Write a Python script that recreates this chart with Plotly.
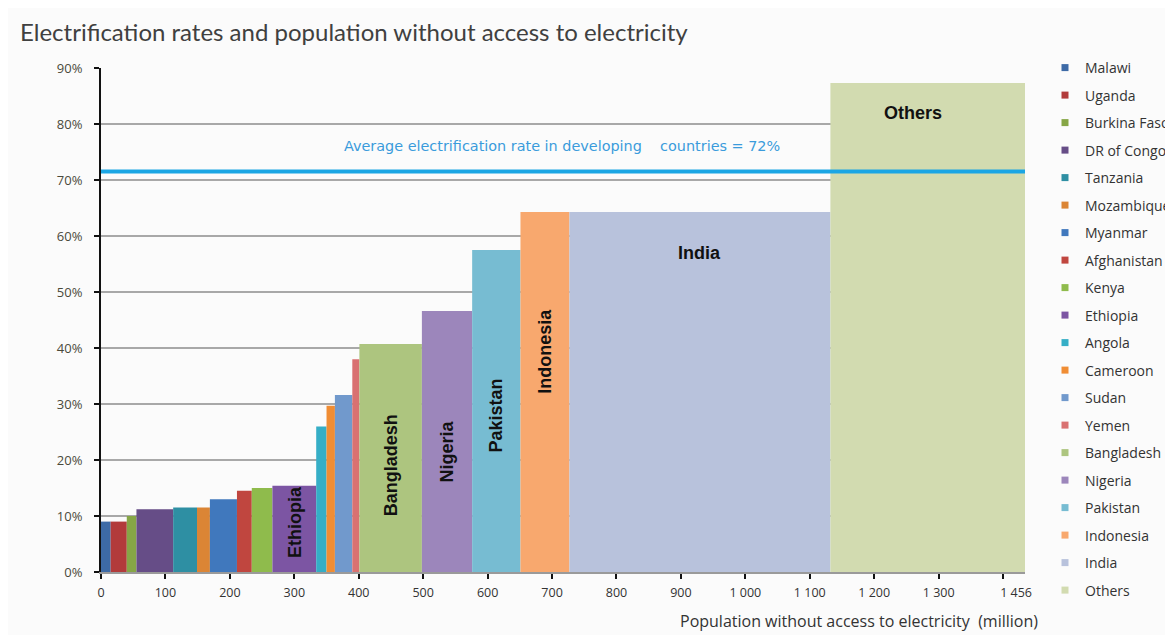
import plotly.graph_objects as go

countries = ["Malawi", "Uganda", "Burkina Faso", "DR of Congo", "Tanzania", "Mozambique",
             "Myanmar", "Afghanistan", "Kenya", "Ethiopia", "Angola", "Cameroon", "Sudan",
             "Yemen", "Bangladesh", "Nigeria", "Pakistan", "Indonesia", "India", "Others"]
population = [15, 25, 15, 57, 37, 20, 42, 23, 32, 68, 16, 13, 27, 11, 97, 78, 75, 76, 405, 302]
rates = [9, 9, 10, 11.2, 11.5, 11.5, 13, 14.5, 15, 15.4, 26, 29.7, 31.6, 38, 40.7, 46.6, 57.5, 64.3, 64.3, 87.3]
colors = ["#3D6AA6", "#B23B3B", "#86A646", "#664D87", "#2E8FA3", "#DB8535", "#4078BD",
          "#C0463F", "#8FBB4C", "#7C55A3", "#35AEC6", "#F08D34", "#7199CC", "#D97171",
          "#ADC57F", "#9C86BB", "#77BCD2", "#F8A86E", "#B8C2DC", "#D2DBB0"]

avg_rate = 71.5
avg_text = "Average electrification rate in developing &nbsp;&nbsp;&nbsp;countries = 72%"

x_tickvals = [0, 100, 200, 300, 400, 500, 600, 700, 800, 900, 1000, 1100, 1200, 1300, 1400]
x_ticktext = ["0", "100", "200", "300", "400", "500", "600", "700", "800", "900",
              "1 000", "1 100", "1 200", "1 300", "&nbsp;" * 8 + "1 456"]
y_tickvals = [0, 10, 20, 30, 40, 50, 60, 70, 80, 90]
y_ticktext = ["0%", "10%", "20%", "30%", "40%", "50%", "60%", "70%", "80%", "90%"]

vertical_labels = ["Ethiopia", "Bangladesh", "Nigeria", "Pakistan", "Indonesia"]
vertical_label_y = [9, 19, 21.5, 28, 39.5]
horizontal_labels = ["India", "Others"]
horizontal_label_y = [57, 82]
horizontal_label_shift = [0, -15]

# cumulative positions
starts = []
acc = 0
for p in population:
    starts.append(acc)
    acc += p
total = acc
centers = [s + p / 2 for s, p in zip(starts, population)]

# the page body has an 8px margin; compensate so the chart lands on the reference pixels
OFF = 8
W, H = 1173 - OFF, 635 - OFF
ML, MR, MT, MB = 101 - OFF, 148, 68 - OFF, 63
pw = W - ML - MR
ph = H - MT - MB

fig = go.Figure()
for name, c, w, r, col in zip(countries, centers, population, rates, colors):
    fig.add_trace(go.Bar(x=[c], y=[r], width=[w], marker=dict(color=col, line=dict(width=0)),
                         name=name, showlegend=False, hoverinfo="x+y+name"))
for i, (name, col) in enumerate(zip(countries, colors)):
    fig.add_trace(go.Scatter(x=[None], y=[None], mode="markers", name=name,
                             legendgroup=f"g{i}",
                             marker=dict(symbol="square", size=7, color=col)))

fig.add_shape(type="line", xref="x", yref="y", x0=0, x1=total, y0=avg_rate, y1=avg_rate,
              line=dict(color="#1BA6E4", width=4), layer="above")

fig.add_annotation(x=374, y=76.1, xref="x", yref="y", text=avg_text, showarrow=False,
                   xanchor="left", yanchor="middle",
                   font=dict(family="DejaVu Sans", size=14.4, color="#3A9BDC"))

label_font = dict(family="Liberation Sans Narrow, Arial Narrow, Liberation Sans", size=18, color="#111111")
for lab, ly in zip(vertical_labels, vertical_label_y):
    i = countries.index(lab)
    fig.add_annotation(x=centers[i], y=ly, xref="x", yref="y", text=f"<b>{lab}</b>",
                       textangle=-90, showarrow=False, font=label_font)
for lab, ly, sh in zip(horizontal_labels, horizontal_label_y, horizontal_label_shift):
    i = countries.index(lab)
    fig.add_annotation(x=centers[i], y=ly, xref="x", yref="y", text=f"<b>{lab}</b>",
                       xshift=sh, showarrow=False, font=label_font)

fig.add_annotation(x=(1040 - 101) / pw, y=(572 - 621) / ph, xref="paper", yref="paper",
                   text="Population without access to electricity &nbsp;(million)",
                   showarrow=False, xanchor="right", yanchor="middle",
                   font=dict(family="Open Sans", size=16, color="#333333"))

fig.update_layout(
    width=W, height=H,
    margin=dict(l=ML, r=MR, t=MT, b=MB, autoexpand=False),
    paper_bgcolor="#FBFBFB", plot_bgcolor="#FBFBFB",
    barmode="overlay",
    title=dict(text="Electrification rates and population without access to electricity",
               x=(20 - OFF) / W, xref="container", xanchor="left",
               y=1 - (33 - OFF) / H, yref="container", yanchor="middle",
               font=dict(family="Lato", size=24, color="#404040")),
    xaxis=dict(range=[0, total], tickvals=x_tickvals, ticktext=x_ticktext,
               showgrid=False, zeroline=False, showline=True, linecolor="#9A9A9A", linewidth=2,
               ticks="outside", ticklen=5, tickwidth=2, tickcolor="#111111",
               ticklabelstandoff=3,
               tickfont=dict(family="Open Sans", size=12.5, color="#333333")),
    yaxis=dict(range=[0, 90], tickvals=y_tickvals, ticktext=y_ticktext,
               showgrid=True, gridcolor="#A8A8A8", gridwidth=2, zeroline=False,
               showline=True, linecolor="#111111", linewidth=2,
               ticks="outside", ticklen=5, tickwidth=2, tickcolor="#111111",
               ticklabelstandoff=9,
               tickfont=dict(family="Open Sans", size=13, color="#4A4A3A")),
    legend=dict(x=(1045 - 101) / pw, xanchor="left", y=(572 - 52) / ph, yanchor="top",
                bgcolor="rgba(0,0,0,0)", tracegroupgap=6.3, traceorder="grouped",
                maxheight=620,
                font=dict(family="Open Sans", size=14, color="#333333")),
    showlegend=True,
)

fig.write_html("out.html")
